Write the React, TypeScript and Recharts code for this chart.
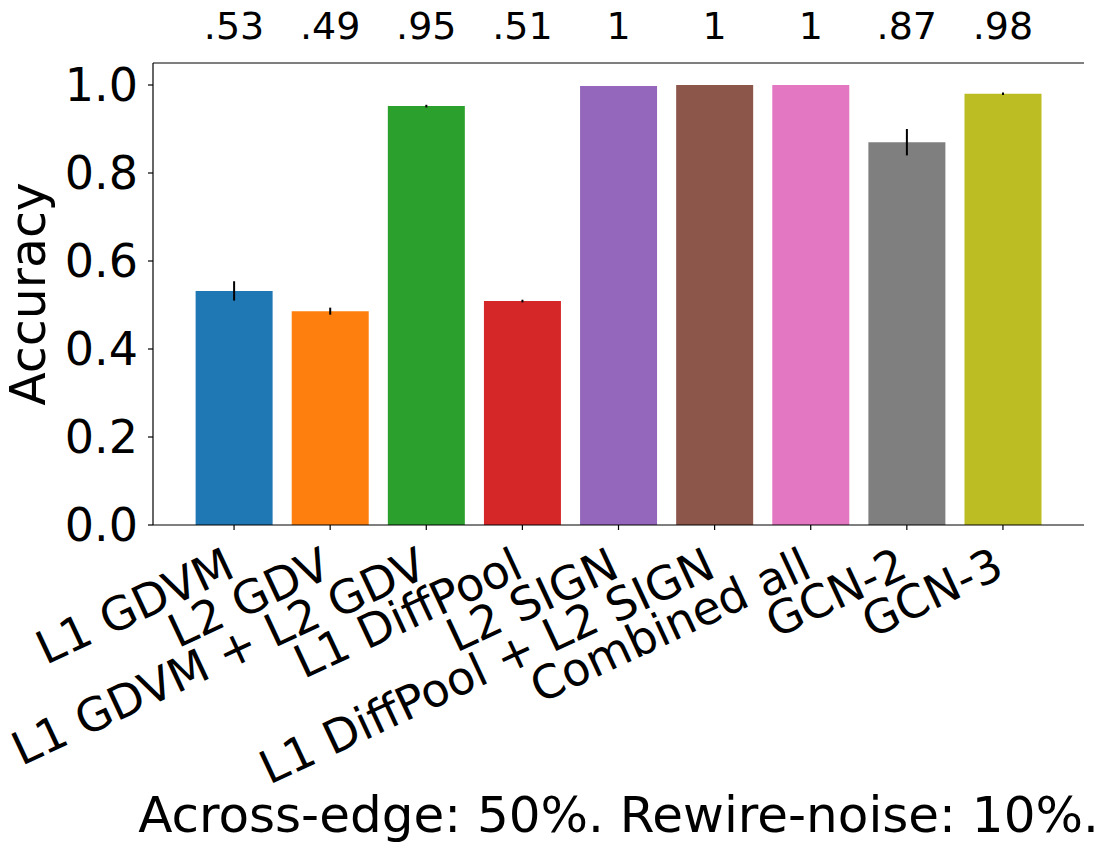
import { BarChart, Bar, XAxis, YAxis, Cell, ErrorBar } from "recharts"

const categories = [
  "L1 GDVM",
  "L2 GDV",
  "L1 GDVM + L2 GDV",
  "L1 DiffPool",
  "L2 SIGN",
  "L1 DiffPool + L2 SIGN",
  "Combined all",
  "GCN-2",
  "GCN-3",
]
const accuracy = [0.532, 0.486, 0.952, 0.509, 0.998, 1.0, 1.0, 0.87, 0.98]
const errors = [0.022, 0.008, 0.003, 0.003, 0, 0, 0, 0.03, 0.003]
const topLabels = [".53", ".49", ".95", ".51", "1", "1", "1", ".87", ".98"]
const yTicks = [0, 0.2, 0.4, 0.6, 0.8, 1.0]

const COLORS = [
  "#1f77b4",
  "#ff7f0e",
  "#2ca02c",
  "#d62728",
  "#9467bd",
  "#8c564b",
  "#e377c2",
  "#7f7f7f",
  "#bcbd22",
]

const FONT = "DejaVu Sans"

const chartData = categories.map((name, i) => ({
  name,
  value: accuracy[i],
  err: errors[i],
}))

// rotated category labels, end of text hangs under the tick
function BottomTick(props: any) {
  const { x, y, payload } = props
  const ax = x + 3
  const ay = y + 46
  return (
    <text
      x={ax}
      y={ay}
      textAnchor="end"
      fontSize={46}
      fontFamily={FONT}
      fill="#000"
      transform={`rotate(-25, ${ax}, ${ay})`}
    >
      {payload.value}
    </text>
  )
}

function TopTick(props: any) {
  const { x, payload, index } = props
  return (
    <text x={x} y={39} textAnchor="middle" fontSize={38} fontFamily={FONT} fill="#000">
      {topLabels[payload.index ?? index]}
    </text>
  )
}

function YLabel(props: any) {
  const { viewBox } = props
  const cy = viewBox.y + viewBox.height / 2
  return (
    <text
      x={45}
      y={cy}
      textAnchor="middle"
      fontSize={49}
      fontFamily={FONT}
      fill="#000"
      transform={`rotate(-90, 45, ${cy})`}
    >
      Accuracy
    </text>
  )
}

function XLabel(props: any) {
  const { viewBox } = props
  return (
    <text
      x={viewBox.x + viewBox.width / 2}
      y={832}
      textAnchor="middle"
      fontSize={50}
      fontFamily={FONT}
      fill="#000"
    >
      Across-edge: 50%. Rewire-noise: 10%.
    </text>
  )
}

export default function App() {
  return (
    <div style={{ position: "absolute", left: 0, top: 0, background: "#fff" }}>
      <BarChart
        width={1108}
        height={853}
        data={chartData}
        margin={{ top: 0, right: 24, bottom: 0, left: 0 }}
        barCategoryGap="10%"
      >
        <XAxis
          dataKey="name"
          height={328}
          padding={{ left: 33, right: 33 }}
          interval={0}
          tickSize={5}
          tickMargin={0}
          tickLine={{ stroke: "#000", strokeWidth: 1.2 }}
          axisLine={{ stroke: "#000", strokeWidth: 1.2 }}
          tick={<BottomTick />}
          label={<XLabel />}
        />
        <XAxis
          xAxisId="top"
          orientation="top"
          dataKey="name"
          height={63}
          padding={{ left: 33, right: 33 }}
          interval={0}
          tickLine={false}
          axisLine={{ stroke: "#000", strokeWidth: 1.2 }}
          tick={<TopTick />}
        />
        <YAxis
          width={153}
          domain={[0, 1.05]}
          ticks={yTicks}
          tickFormatter={(v: number) => v.toFixed(1)}
          tickSize={5}
          tickMargin={10}
          tickLine={{ stroke: "#000", strokeWidth: 1.2 }}
          axisLine={{ stroke: "#000", strokeWidth: 1.2 }}
          tick={{ fontSize: 46, fontFamily: FONT, fill: "#000" }}
          label={<YLabel />}
        />
        <YAxis
          yAxisId="right"
          orientation="right"
          width={0}
          tick={false}
          tickLine={false}
          axisLine={{ stroke: "#000", strokeWidth: 1.2 }}
        />
        <Bar dataKey="value" isAnimationActive={false}>
          {chartData.map((d, i) => (
            <Cell key={d.name} fill={COLORS[i]} />
          ))}
          <ErrorBar
            dataKey="err"
            direction="y"
            width={0}
            stroke="#000"
            strokeWidth={2}
            isAnimationActive={false}
          />
        </Bar>
      </BarChart>
    </div>
  )
}
